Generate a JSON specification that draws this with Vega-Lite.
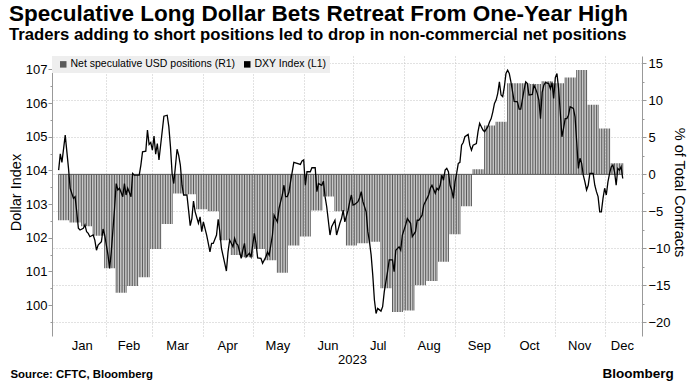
{
"$schema":"https://vega.github.io/schema/vega-lite/v6.json",
"width":590,"height":280,
"autosize":{"type":"none"},
"padding":{"left":52,"top":56,"right":55,"bottom":53},
"background":"white",
"config":{"font":"Liberation Sans","view":{"stroke":null}},
"title":{"text":"Speculative Long Dollar Bets Retreat From One-Year High","subtitle":"Traders adding to short positions led to drop in non-commercial net positions","anchor":"start","frame":"group","dx":-43,"offset":12,"fontSize":22.5,"fontWeight":"bold","color":"#000","subtitleFontSize":16.7,"subtitleFontWeight":"bold","subtitleColor":"#000","subtitlePadding":2,"font":"Liberation Sans","subtitleFont":"Liberation Sans"},
"datasets":{
"net":[
{"d":"2023-01-03","n":-6.2},{"d":"2023-01-04","n":-6.2},{"d":"2023-01-05","n":-6.2},{"d":"2023-01-06","n":-6.2},{"d":"2023-01-07","n":-6.2},{"d":"2023-01-08","n":-6.2},{"d":"2023-01-09","n":-6.2},
{"d":"2023-01-10","n":-6.5},{"d":"2023-01-11","n":-6.5},{"d":"2023-01-12","n":-6.5},{"d":"2023-01-13","n":-6.5},{"d":"2023-01-14","n":-6.5},{"d":"2023-01-15","n":-6.5},{"d":"2023-01-16","n":-6.5},
{"d":"2023-01-17","n":-7.0},{"d":"2023-01-18","n":-7.0},{"d":"2023-01-19","n":-7.0},{"d":"2023-01-20","n":-7.0},{"d":"2023-01-21","n":-7.0},{"d":"2023-01-22","n":-7.0},{"d":"2023-01-23","n":-7.0},
{"d":"2023-01-24","n":-8.3},{"d":"2023-01-25","n":-8.3},{"d":"2023-01-26","n":-8.3},{"d":"2023-01-27","n":-8.3},{"d":"2023-01-28","n":-8.3},{"d":"2023-01-29","n":-8.3},{"d":"2023-01-30","n":-8.3},
{"d":"2023-01-31","n":-12.7},{"d":"2023-02-01","n":-12.7},{"d":"2023-02-02","n":-12.7},{"d":"2023-02-03","n":-12.7},{"d":"2023-02-04","n":-12.7},{"d":"2023-02-05","n":-12.7},{"d":"2023-02-06","n":-12.7},
{"d":"2023-02-07","n":-16.0},{"d":"2023-02-08","n":-16.0},{"d":"2023-02-09","n":-16.0},{"d":"2023-02-10","n":-16.0},{"d":"2023-02-11","n":-16.0},{"d":"2023-02-12","n":-16.0},{"d":"2023-02-13","n":-16.0},
{"d":"2023-02-14","n":-15.1},{"d":"2023-02-15","n":-15.1},{"d":"2023-02-16","n":-15.1},{"d":"2023-02-17","n":-15.1},{"d":"2023-02-18","n":-15.1},{"d":"2023-02-19","n":-15.1},{"d":"2023-02-20","n":-15.1},
{"d":"2023-02-21","n":-13.9},{"d":"2023-02-22","n":-13.9},{"d":"2023-02-23","n":-13.9},{"d":"2023-02-24","n":-13.9},{"d":"2023-02-25","n":-13.9},{"d":"2023-02-26","n":-13.9},{"d":"2023-02-27","n":-13.9},
{"d":"2023-02-28","n":-10.1},{"d":"2023-03-01","n":-10.1},{"d":"2023-03-02","n":-10.1},{"d":"2023-03-03","n":-10.1},{"d":"2023-03-04","n":-10.1},{"d":"2023-03-05","n":-10.1},{"d":"2023-03-06","n":-10.1},
{"d":"2023-03-07","n":-6.7},{"d":"2023-03-08","n":-6.7},{"d":"2023-03-09","n":-6.7},{"d":"2023-03-10","n":-6.7},{"d":"2023-03-11","n":-6.7},{"d":"2023-03-12","n":-6.7},{"d":"2023-03-13","n":-6.7},
{"d":"2023-03-14","n":-2.6},{"d":"2023-03-15","n":-2.6},{"d":"2023-03-16","n":-2.6},{"d":"2023-03-17","n":-2.6},{"d":"2023-03-18","n":-2.6},{"d":"2023-03-19","n":-2.6},{"d":"2023-03-20","n":-2.6},
{"d":"2023-03-21","n":-2.7},{"d":"2023-03-22","n":-2.7},{"d":"2023-03-23","n":-2.7},{"d":"2023-03-24","n":-2.7},{"d":"2023-03-25","n":-2.7},{"d":"2023-03-26","n":-2.7},{"d":"2023-03-27","n":-2.7},
{"d":"2023-03-28","n":-4.7},{"d":"2023-03-29","n":-4.7},{"d":"2023-03-30","n":-4.7},{"d":"2023-03-31","n":-4.7},{"d":"2023-04-01","n":-4.7},{"d":"2023-04-02","n":-4.7},{"d":"2023-04-03","n":-4.7},
{"d":"2023-04-04","n":-5.0},{"d":"2023-04-05","n":-5.0},{"d":"2023-04-06","n":-5.0},{"d":"2023-04-07","n":-5.0},{"d":"2023-04-08","n":-5.0},{"d":"2023-04-09","n":-5.0},{"d":"2023-04-10","n":-5.0},
{"d":"2023-04-11","n":-8.9},{"d":"2023-04-12","n":-8.9},{"d":"2023-04-13","n":-8.9},{"d":"2023-04-14","n":-8.9},{"d":"2023-04-15","n":-8.9},{"d":"2023-04-16","n":-8.9},{"d":"2023-04-17","n":-8.9},
{"d":"2023-04-18","n":-10.9},{"d":"2023-04-19","n":-10.9},{"d":"2023-04-20","n":-10.9},{"d":"2023-04-21","n":-10.9},{"d":"2023-04-22","n":-10.9},{"d":"2023-04-23","n":-10.9},{"d":"2023-04-24","n":-10.9},
{"d":"2023-04-25","n":-11.2},{"d":"2023-04-26","n":-11.2},{"d":"2023-04-27","n":-11.2},{"d":"2023-04-28","n":-11.2},{"d":"2023-04-29","n":-11.2},{"d":"2023-04-30","n":-11.2},{"d":"2023-05-01","n":-11.2},
{"d":"2023-05-02","n":-10.1},{"d":"2023-05-03","n":-10.1},{"d":"2023-05-04","n":-10.1},{"d":"2023-05-05","n":-10.1},{"d":"2023-05-06","n":-10.1},{"d":"2023-05-07","n":-10.1},{"d":"2023-05-08","n":-10.1},
{"d":"2023-05-09","n":-11.6},{"d":"2023-05-10","n":-11.6},{"d":"2023-05-11","n":-11.6},{"d":"2023-05-12","n":-11.6},{"d":"2023-05-13","n":-11.6},{"d":"2023-05-14","n":-11.6},{"d":"2023-05-15","n":-11.6},
{"d":"2023-05-16","n":-13.3},{"d":"2023-05-17","n":-13.3},{"d":"2023-05-18","n":-13.3},{"d":"2023-05-19","n":-13.3},{"d":"2023-05-20","n":-13.3},{"d":"2023-05-21","n":-13.3},{"d":"2023-05-22","n":-13.3},
{"d":"2023-05-23","n":-9.6},{"d":"2023-05-24","n":-9.6},{"d":"2023-05-25","n":-9.6},{"d":"2023-05-26","n":-9.6},{"d":"2023-05-27","n":-9.6},{"d":"2023-05-28","n":-9.6},{"d":"2023-05-29","n":-9.6},
{"d":"2023-05-30","n":-8.4},{"d":"2023-05-31","n":-8.4},{"d":"2023-06-01","n":-8.4},{"d":"2023-06-02","n":-8.4},{"d":"2023-06-03","n":-8.4},{"d":"2023-06-04","n":-8.4},{"d":"2023-06-05","n":-8.4},
{"d":"2023-06-06","n":-4.9},{"d":"2023-06-07","n":-4.9},{"d":"2023-06-08","n":-4.9},{"d":"2023-06-09","n":-4.9},{"d":"2023-06-10","n":-4.9},{"d":"2023-06-11","n":-4.9},{"d":"2023-06-12","n":-4.9},
{"d":"2023-06-13","n":-3.0},{"d":"2023-06-14","n":-3.0},{"d":"2023-06-15","n":-3.0},{"d":"2023-06-16","n":-3.0},{"d":"2023-06-17","n":-3.0},{"d":"2023-06-18","n":-3.0},{"d":"2023-06-19","n":-3.0},
{"d":"2023-06-20","n":-5.0},{"d":"2023-06-21","n":-5.0},{"d":"2023-06-22","n":-5.0},{"d":"2023-06-23","n":-5.0},{"d":"2023-06-24","n":-5.0},{"d":"2023-06-25","n":-5.0},{"d":"2023-06-26","n":-5.0},
{"d":"2023-06-27","n":-9.6},{"d":"2023-06-28","n":-9.6},{"d":"2023-06-29","n":-9.6},{"d":"2023-06-30","n":-9.6},{"d":"2023-07-01","n":-9.6},{"d":"2023-07-02","n":-9.6},{"d":"2023-07-03","n":-9.6},
{"d":"2023-07-04","n":-9.3},{"d":"2023-07-05","n":-9.3},{"d":"2023-07-06","n":-9.3},{"d":"2023-07-07","n":-9.3},{"d":"2023-07-08","n":-9.3},{"d":"2023-07-09","n":-9.3},{"d":"2023-07-10","n":-9.3},
{"d":"2023-07-11","n":-9.1},{"d":"2023-07-12","n":-9.1},{"d":"2023-07-13","n":-9.1},{"d":"2023-07-14","n":-9.1},{"d":"2023-07-15","n":-9.1},{"d":"2023-07-16","n":-9.1},{"d":"2023-07-17","n":-9.1},
{"d":"2023-07-18","n":-15.4},{"d":"2023-07-19","n":-15.4},{"d":"2023-07-20","n":-15.4},{"d":"2023-07-21","n":-15.4},{"d":"2023-07-22","n":-15.4},{"d":"2023-07-23","n":-15.4},{"d":"2023-07-24","n":-15.4},
{"d":"2023-07-25","n":-18.6},{"d":"2023-07-26","n":-18.6},{"d":"2023-07-27","n":-18.6},{"d":"2023-07-28","n":-18.6},{"d":"2023-07-29","n":-18.6},{"d":"2023-07-30","n":-18.6},{"d":"2023-07-31","n":-18.6},
{"d":"2023-08-01","n":-18.4},{"d":"2023-08-02","n":-18.4},{"d":"2023-08-03","n":-18.4},{"d":"2023-08-04","n":-18.4},{"d":"2023-08-05","n":-18.4},{"d":"2023-08-06","n":-18.4},{"d":"2023-08-07","n":-18.4},
{"d":"2023-08-08","n":-15.0},{"d":"2023-08-09","n":-15.0},{"d":"2023-08-10","n":-15.0},{"d":"2023-08-11","n":-15.0},{"d":"2023-08-12","n":-15.0},{"d":"2023-08-13","n":-15.0},{"d":"2023-08-14","n":-15.0},
{"d":"2023-08-15","n":-14.4},{"d":"2023-08-16","n":-14.4},{"d":"2023-08-17","n":-14.4},{"d":"2023-08-18","n":-14.4},{"d":"2023-08-19","n":-14.4},{"d":"2023-08-20","n":-14.4},{"d":"2023-08-21","n":-14.4},
{"d":"2023-08-22","n":-11.8},{"d":"2023-08-23","n":-11.8},{"d":"2023-08-24","n":-11.8},{"d":"2023-08-25","n":-11.8},{"d":"2023-08-26","n":-11.8},{"d":"2023-08-27","n":-11.8},{"d":"2023-08-28","n":-11.8},
{"d":"2023-08-29","n":-8.1},{"d":"2023-08-30","n":-8.1},{"d":"2023-08-31","n":-8.1},{"d":"2023-09-01","n":-8.1},{"d":"2023-09-02","n":-8.1},{"d":"2023-09-03","n":-8.1},{"d":"2023-09-04","n":-8.1},
{"d":"2023-09-05","n":-4.3},{"d":"2023-09-06","n":-4.3},{"d":"2023-09-07","n":-4.3},{"d":"2023-09-08","n":-4.3},{"d":"2023-09-09","n":-4.3},{"d":"2023-09-10","n":-4.3},{"d":"2023-09-11","n":-4.3},
{"d":"2023-09-12","n":0.7},{"d":"2023-09-13","n":0.7},{"d":"2023-09-14","n":0.7},{"d":"2023-09-15","n":0.7},{"d":"2023-09-16","n":0.7},{"d":"2023-09-17","n":0.7},{"d":"2023-09-18","n":0.7},
{"d":"2023-09-19","n":6.6},{"d":"2023-09-20","n":6.6},{"d":"2023-09-21","n":6.6},{"d":"2023-09-22","n":6.6},{"d":"2023-09-23","n":6.6},{"d":"2023-09-24","n":6.6},{"d":"2023-09-25","n":6.6},
{"d":"2023-09-26","n":7.1},{"d":"2023-09-27","n":7.1},{"d":"2023-09-28","n":7.1},{"d":"2023-09-29","n":7.1},{"d":"2023-09-30","n":7.1},{"d":"2023-10-01","n":7.1},{"d":"2023-10-02","n":7.1},
{"d":"2023-10-03","n":12.3},{"d":"2023-10-04","n":12.3},{"d":"2023-10-05","n":12.3},{"d":"2023-10-06","n":12.3},{"d":"2023-10-07","n":12.3},{"d":"2023-10-08","n":12.3},{"d":"2023-10-09","n":12.3},
{"d":"2023-10-10","n":12.3},{"d":"2023-10-11","n":12.3},{"d":"2023-10-12","n":12.3},{"d":"2023-10-13","n":12.3},{"d":"2023-10-14","n":12.3},{"d":"2023-10-15","n":12.3},{"d":"2023-10-16","n":12.3},
{"d":"2023-10-17","n":12.2},{"d":"2023-10-18","n":12.2},{"d":"2023-10-19","n":12.2},{"d":"2023-10-20","n":12.2},{"d":"2023-10-21","n":12.2},{"d":"2023-10-22","n":12.2},{"d":"2023-10-23","n":12.2},
{"d":"2023-10-24","n":12.6},{"d":"2023-10-25","n":12.6},{"d":"2023-10-26","n":12.6},{"d":"2023-10-27","n":12.6},{"d":"2023-10-28","n":12.6},{"d":"2023-10-29","n":12.6},{"d":"2023-10-30","n":12.6},
{"d":"2023-10-31","n":12.3},{"d":"2023-11-01","n":12.3},{"d":"2023-11-02","n":12.3},{"d":"2023-11-03","n":12.3},{"d":"2023-11-04","n":12.3},{"d":"2023-11-05","n":12.3},{"d":"2023-11-06","n":12.3},
{"d":"2023-11-07","n":13.1},{"d":"2023-11-08","n":13.1},{"d":"2023-11-09","n":13.1},{"d":"2023-11-10","n":13.1},{"d":"2023-11-11","n":13.1},{"d":"2023-11-12","n":13.1},{"d":"2023-11-13","n":13.1},
{"d":"2023-11-14","n":14.1},{"d":"2023-11-15","n":14.1},{"d":"2023-11-16","n":14.1},{"d":"2023-11-17","n":14.1},{"d":"2023-11-18","n":14.1},{"d":"2023-11-19","n":14.1},{"d":"2023-11-20","n":14.1},
{"d":"2023-11-21","n":9.4},{"d":"2023-11-22","n":9.4},{"d":"2023-11-23","n":9.4},{"d":"2023-11-24","n":9.4},{"d":"2023-11-25","n":9.4},{"d":"2023-11-26","n":9.4},{"d":"2023-11-27","n":9.4},
{"d":"2023-11-28","n":6.2},{"d":"2023-11-29","n":6.2},{"d":"2023-11-30","n":6.2},{"d":"2023-12-01","n":6.2},{"d":"2023-12-02","n":6.2},{"d":"2023-12-03","n":6.2},{"d":"2023-12-04","n":6.2},
{"d":"2023-12-05","n":1.5},{"d":"2023-12-06","n":1.5},{"d":"2023-12-07","n":1.5},{"d":"2023-12-08","n":1.5},{"d":"2023-12-09","n":1.5},{"d":"2023-12-10","n":1.5},{"d":"2023-12-11","n":1.5},{"d":"2023-12-12","n":1.5}
],
"dxy":[
{"d":"2023-01-03","v":104.01},{"d":"2023-01-04","v":104.49},{"d":"2023-01-05","v":104.24},{"d":"2023-01-07","v":105.05},{"d":"2023-01-09","v":104.06},{"d":"2023-01-10","v":103.47},{"d":"2023-01-12","v":103.17},{"d":"2023-01-13","v":103.22},{"d":"2023-01-14","v":102.77},{"d":"2023-01-15","v":102.28},{"d":"2023-01-16","v":102.23},{"d":"2023-01-18","v":102.28},{"d":"2023-01-19","v":102.38},{"d":"2023-01-20","v":102.18},{"d":"2023-01-21","v":102.13},{"d":"2023-01-22","v":102.03},{"d":"2023-01-24","v":102.08},{"d":"2023-01-25","v":101.93},{"d":"2023-01-26","v":101.63},{"d":"2023-01-27","v":101.78},{"d":"2023-01-29","v":101.88},{"d":"2023-01-30","v":102.26},{"d":"2023-01-31","v":102.08},
{"d":"2023-02-02","v":101.49},{"d":"2023-02-03","v":101.09},{"d":"2023-02-04","v":101.58},{"d":"2023-02-06","v":102.87},{"d":"2023-02-07","v":103.61},{"d":"2023-02-08","v":103.42},{"d":"2023-02-09","v":103.47},{"d":"2023-02-11","v":103.22},{"d":"2023-02-12","v":103.61},{"d":"2023-02-13","v":103.27},{"d":"2023-02-14","v":103.47},{"d":"2023-02-16","v":103.22},{"d":"2023-02-17","v":103.91},{"d":"2023-02-18","v":103.86},{"d":"2023-02-19","v":103.86},{"d":"2023-02-21","v":103.86},{"d":"2023-02-22","v":104.16},{"d":"2023-02-23","v":104.55},{"d":"2023-02-25","v":104.57},{"d":"2023-02-26","v":105.2},{"d":"2023-02-27","v":104.77},{"d":"2023-02-28","v":104.83},
{"d":"2023-03-01","v":104.6},{"d":"2023-03-02","v":105.02},{"d":"2023-03-03","v":104.48},{"d":"2023-03-04","v":104.8},{"d":"2023-03-05","v":104.31},{"d":"2023-03-08","v":105.61},{"d":"2023-03-10","v":105.64},{"d":"2023-03-11","v":105.3},{"d":"2023-03-12","v":104.7},{"d":"2023-03-13","v":103.9},{"d":"2023-03-14","v":103.61},{"d":"2023-03-16","v":104.63},{"d":"2023-03-17","v":104.45},{"d":"2023-03-18","v":104.16},{"d":"2023-03-19","v":103.56},{"d":"2023-03-20","v":103.27},{"d":"2023-03-22","v":103.27},{"d":"2023-03-23","v":102.82},{"d":"2023-03-24","v":102.36},{"d":"2023-03-25","v":102.57},{"d":"2023-03-26","v":103.09},{"d":"2023-03-27","v":102.77},{"d":"2023-03-29","v":102.43},{"d":"2023-03-30","v":102.62},{"d":"2023-03-31","v":102.18},
{"d":"2023-04-01","v":102.47},{"d":"2023-04-03","v":102.08},{"d":"2023-04-04","v":101.83},{"d":"2023-04-05","v":101.58},{"d":"2023-04-06","v":101.83},{"d":"2023-04-07","v":101.83},{"d":"2023-04-09","v":102.08},{"d":"2023-04-10","v":102.55},{"d":"2023-04-11","v":102.18},{"d":"2023-04-12","v":101.68},{"d":"2023-04-14","v":101.24},{"d":"2023-04-15","v":101.01},{"d":"2023-04-16","v":101.58},{"d":"2023-04-17","v":101.93},{"d":"2023-04-19","v":101.73},{"d":"2023-04-20","v":101.98},{"d":"2023-04-21","v":101.83},{"d":"2023-04-22","v":101.78},{"d":"2023-04-24","v":101.39},{"d":"2023-04-25","v":101.63},{"d":"2023-04-26","v":101.83},{"d":"2023-04-27","v":101.43},{"d":"2023-04-29","v":101.54},{"d":"2023-04-30","v":101.43},
{"d":"2023-05-02","v":102.13},{"d":"2023-05-03","v":101.83},{"d":"2023-05-04","v":101.4},{"d":"2023-05-06","v":101.39},{"d":"2023-05-07","v":101.24},{"d":"2023-05-09","v":101.43},{"d":"2023-05-10","v":101.58},{"d":"2023-05-11","v":101.48},{"d":"2023-05-13","v":102.08},{"d":"2023-05-14","v":102.67},{"d":"2023-05-16","v":102.47},{"d":"2023-05-17","v":102.87},{"d":"2023-05-19","v":103.27},{"d":"2023-05-20","v":103.56},{"d":"2023-05-21","v":103.22},{"d":"2023-05-22","v":103.22},{"d":"2023-05-23","v":103.35},{"d":"2023-05-24","v":103.66},{"d":"2023-05-26","v":104.24},{"d":"2023-05-28","v":104.21},{"d":"2023-05-30","v":104.18},{"d":"2023-05-31","v":104.28},
{"d":"2023-06-01","v":104.31},{"d":"2023-06-02","v":103.56},{"d":"2023-06-03","v":103.96},{"d":"2023-06-05","v":103.96},{"d":"2023-06-06","v":104.08},{"d":"2023-06-08","v":104.08},{"d":"2023-06-09","v":103.37},{"d":"2023-06-10","v":103.61},{"d":"2023-06-12","v":103.56},{"d":"2023-06-13","v":103.68},{"d":"2023-06-14","v":103.22},{"d":"2023-06-15","v":102.92},{"d":"2023-06-17","v":102.08},{"d":"2023-06-18","v":102.33},{"d":"2023-06-20","v":102.52},{"d":"2023-06-21","v":102.08},{"d":"2023-06-23","v":102.43},{"d":"2023-06-24","v":102.57},{"d":"2023-06-25","v":102.82},{"d":"2023-06-26","v":102.47},{"d":"2023-06-28","v":102.82},{"d":"2023-06-29","v":103.07},{"d":"2023-06-30","v":103.27},
{"d":"2023-07-01","v":102.97},{"d":"2023-07-02","v":102.99},{"d":"2023-07-04","v":103.07},{"d":"2023-07-05","v":103.19},{"d":"2023-07-06","v":103.37},{"d":"2023-07-07","v":103.07},{"d":"2023-07-09","v":102.77},{"d":"2023-07-10","v":102.18},{"d":"2023-07-11","v":101.88},{"d":"2023-07-12","v":101.49},{"d":"2023-07-13","v":100.89},{"d":"2023-07-14","v":100.15},{"d":"2023-07-15","v":99.75},{"d":"2023-07-16","v":99.9},{"d":"2023-07-18","v":99.82},{"d":"2023-07-19","v":99.95},{"d":"2023-07-20","v":100.4},{"d":"2023-07-22","v":100.99},{"d":"2023-07-23","v":101.34},{"d":"2023-07-25","v":101.34},{"d":"2023-07-26","v":100.99},{"d":"2023-07-27","v":101.63},{"d":"2023-07-29","v":101.73},{"d":"2023-07-30","v":101.63},{"d":"2023-07-31","v":102.08},
{"d":"2023-08-02","v":102.38},{"d":"2023-08-03","v":102.57},{"d":"2023-08-05","v":102.43},{"d":"2023-08-06","v":102.03},{"d":"2023-08-08","v":102.18},{"d":"2023-08-09","v":102.52},{"d":"2023-08-10","v":102.52},{"d":"2023-08-12","v":102.67},{"d":"2023-08-13","v":102.97},{"d":"2023-08-15","v":103.17},{"d":"2023-08-16","v":103.27},{"d":"2023-08-17","v":103.47},{"d":"2023-08-18","v":103.56},{"d":"2023-08-20","v":103.32},{"d":"2023-08-21","v":103.47},{"d":"2023-08-22","v":103.42},{"d":"2023-08-23","v":103.56},{"d":"2023-08-24","v":103.86},{"d":"2023-08-25","v":103.71},{"d":"2023-08-26","v":104.01},{"d":"2023-08-27","v":104.06},{"d":"2023-08-28","v":103.96},{"d":"2023-08-29","v":103.56},{"d":"2023-08-30","v":103.42},{"d":"2023-08-31","v":103.17},
{"d":"2023-09-01","v":103.66},{"d":"2023-09-02","v":103.91},{"d":"2023-09-03","v":104.21},{"d":"2023-09-04","v":104.24},{"d":"2023-09-05","v":104.75},{"d":"2023-09-06","v":104.83},{"d":"2023-09-07","v":105.0},{"d":"2023-09-09","v":105.07},{"d":"2023-09-10","v":104.75},{"d":"2023-09-11","v":104.6},{"d":"2023-09-12","v":104.75},{"d":"2023-09-14","v":104.8},{"d":"2023-09-15","v":105.15},{"d":"2023-09-16","v":105.4},{"d":"2023-09-17","v":105.3},{"d":"2023-09-18","v":105.2},{"d":"2023-09-19","v":105.15},{"d":"2023-09-21","v":105.3},{"d":"2023-09-22","v":105.44},{"d":"2023-09-23","v":105.54},{"d":"2023-09-24","v":105.74},{"d":"2023-09-25","v":105.99},{"d":"2023-09-26","v":106.09},{"d":"2023-09-27","v":106.29},{"d":"2023-09-28","v":106.63},{"d":"2023-09-29","v":106.24},{"d":"2023-09-30","v":106.19},
{"d":"2023-10-01","v":106.48},{"d":"2023-10-02","v":106.88},{"d":"2023-10-03","v":106.98},{"d":"2023-10-04","v":106.88},{"d":"2023-10-05","v":106.63},{"d":"2023-10-06","v":106.34},{"d":"2023-10-07","v":106.05},{"d":"2023-10-09","v":106.04},{"d":"2023-10-10","v":105.82},{"d":"2023-10-11","v":105.82},{"d":"2023-10-13","v":106.39},{"d":"2023-10-14","v":106.63},{"d":"2023-10-15","v":106.58},{"d":"2023-10-16","v":106.24},{"d":"2023-10-18","v":106.26},{"d":"2023-10-19","v":106.53},{"d":"2023-10-20","v":106.43},{"d":"2023-10-21","v":106.29},{"d":"2023-10-22","v":106.09},{"d":"2023-10-23","v":105.54},{"d":"2023-10-24","v":106.32},{"d":"2023-10-25","v":106.53},{"d":"2023-10-26","v":106.61},{"d":"2023-10-28","v":106.58},{"d":"2023-10-29","v":106.43},{"d":"2023-10-30","v":106.61},{"d":"2023-10-31","v":106.14},
{"d":"2023-11-01","v":106.76},{"d":"2023-11-02","v":106.88},{"d":"2023-11-03","v":106.43},{"d":"2023-11-04","v":105.74},{"d":"2023-11-05","v":105.0},{"d":"2023-11-06","v":105.25},{"d":"2023-11-07","v":105.54},{"d":"2023-11-08","v":105.54},{"d":"2023-11-09","v":105.64},{"d":"2023-11-10","v":105.89},{"d":"2023-11-12","v":105.84},{"d":"2023-11-13","v":105.59},{"d":"2023-11-14","v":104.85},{"d":"2023-11-15","v":104.06},{"d":"2023-11-16","v":104.36},{"d":"2023-11-17","v":104.21},{"d":"2023-11-18","v":103.86},{"d":"2023-11-19","v":103.66},{"d":"2023-11-20","v":103.42},{"d":"2023-11-21","v":103.56},{"d":"2023-11-22","v":103.91},{"d":"2023-11-24","v":103.91},{"d":"2023-11-25","v":103.56},{"d":"2023-11-26","v":103.37},{"d":"2023-11-27","v":103.22},{"d":"2023-11-28","v":102.77},{"d":"2023-11-29","v":102.77},{"d":"2023-11-30","v":103.17},
{"d":"2023-12-01","v":103.47},{"d":"2023-12-02","v":103.27},{"d":"2023-12-03","v":103.66},{"d":"2023-12-04","v":103.91},{"d":"2023-12-05","v":104.11},{"d":"2023-12-06","v":104.16},{"d":"2023-12-07","v":103.96},{"d":"2023-12-08","v":103.56},{"d":"2023-12-09","v":104.06},{"d":"2023-12-10","v":104.01},{"d":"2023-12-11","v":104.11},{"d":"2023-12-12","v":103.76}
]
},
"layer":[
{"layer":[
{"data":{"name":"net"},
 "mark":{"type":"bar","width":1},
 "encoding":{
  "x":{"field":"d","type":"temporal","scale":{"type":"utc","domain":[{"year":2023,"month":1,"date":2,"utc":true},{"year":2023,"month":12,"date":20,"hours":16,"utc":true}]},
   "axis":{"orient":"bottom","values":[{"year":2023,"month":2,"date":1,"utc":true},{"year":2023,"month":3,"date":1,"utc":true},{"year":2023,"month":4,"date":1,"utc":true},{"year":2023,"month":5,"date":1,"utc":true},{"year":2023,"month":6,"date":1,"utc":true},{"year":2023,"month":7,"date":1,"utc":true},{"year":2023,"month":8,"date":1,"utc":true},{"year":2023,"month":9,"date":1,"utc":true},{"year":2023,"month":10,"date":1,"utc":true},{"year":2023,"month":11,"date":1,"utc":true},{"year":2023,"month":12,"date":1,"utc":true}],
   "grid":true,"gridColor":"#c4c4c4","gridDash":[1,2],"ticks":false,"labels":false,"domain":false,
   "title":"Source: CFTC, Bloomberg","titleX":-42,"titleY":38.5,"titleAlign":"left","titleBaseline":"middle","titleFontSize":11.4,"titleFontWeight":"bold","titleColor":"#000","titleFont":"Liberation Sans"}},
  "y":{"field":"n","type":"quantitative","scale":{"domain":[-21.85,16],"nice":false,"zero":false},
   "axis":{"orient":"right","values":[-20,-17.5,-15,-12.5,-10,-7.5,-5,-2.5,0,2.5,5,7.5,10,12.5,15],"format":".0f","labelExpr":"datum.value % 5 === 0 ? datum.label : ''","labelOverlap":false,
    "grid":true,"gridColor":"#c4c4c4","gridDash":[1,2],"gridOpacity":{"condition":{"test":"datum.value % 5 === 0","value":1},"value":0},
    "domainColor":"#999","tickColor":"#999","tickSize":{"condition":{"test":"datum.value % 5 === 0","value":4},"value":2},"labelFontSize":13,"labelColor":"#000","labelPadding":2,"labelFont":"Liberation Sans",
    "title":"% of Total Contracts","titleFontSize":14.5,"titleFontWeight":"normal","titleColor":"#000","titleFont":"Liberation Sans","titleX":36,"titleY":136,"titleAngle":90,"titleBaseline":"middle","titleAlign":"center"}},
  "color":{"datum":"Net speculative USD positions (R1)","scale":{"domain":["Net speculative USD positions (R1)","DXY Index (L1)"],"range":["#5a5a5a","#000000"]},
   "legend":{"orient":"none","legendX":0,"legendY":0,"direction":"horizontal","title":null,"fillColor":"#eeeeee","padding":3,"symbolOffset":3,"symbolType":"square","symbolSize":42,"symbolStrokeWidth":0,"labelFontSize":10.5,"labelFont":"Liberation Sans","labelColor":"#000","labelOffset":2,"labelLimit":400,"columnPadding":3,
    "encode":{"symbols":{"update":{"fill":{"scale":"color","field":"value"},"strokeWidth":{"value":0}}}}}}
 }},
{"data":{"name":"net"},
 "mark":{"type":"rule","color":"#5a5a5a","strokeWidth":1},
 "encoding":{
  "x":{"aggregate":"min","field":"d","type":"temporal",
   "axis":{"orient":"bottom","grid":false,"ticks":false,"labels":false,"domain":false,"title":"Bloomberg","titleX":550,"titleY":37,"titleAlign":"left","titleBaseline":"middle","titleFontSize":13.5,"titleFontWeight":"bold","titleColor":"#000","titleFont":"Liberation Sans"}},
  "x2":{"aggregate":"max","field":"d"},
  "y":{"datum":0,"type":"quantitative",
   "axis":{"orient":"right","values":[-20,-17.5,-15,-12.5,-10,-7.5,-5,-2.5,0,2.5,5,7.5,10,12.5,15],"format":".0f","labelExpr":"datum.value % 5 === 0 ? datum.label : ''","labelOverlap":false,
    "grid":true,"gridColor":"#c4c4c4","gridDash":[1,2],"gridOpacity":{"condition":{"test":"datum.value % 5 === 0","value":1},"value":0},
    "domainColor":"#999","tickColor":"#999","tickSize":{"condition":{"test":"datum.value % 5 === 0","value":4},"value":2},"labelFontSize":13,"labelColor":"#000","labelPadding":2,"labelFont":"Liberation Sans",
    "title":"% of Total Contracts","titleFontSize":14.5,"titleFontWeight":"normal","titleColor":"#000","titleFont":"Liberation Sans","titleX":36,"titleY":136,"titleAngle":90,"titleBaseline":"middle","titleAlign":"center"}}
 }}
],"resolve":{"axis":{"x":"independent"}}},
{"data":{"name":"dxy"},
 "mark":{"type":"line","strokeWidth":1.3,"interpolate":"linear"},
 "encoding":{
  "x":{"field":"d","type":"temporal",
   "axis":{"orient":"bottom","values":[{"year":2023,"month":1,"date":17,"utc":true},{"year":2023,"month":2,"date":14,"hours":12,"utc":true},{"year":2023,"month":3,"date":16,"utc":true},{"year":2023,"month":4,"date":15,"hours":12,"utc":true},{"year":2023,"month":5,"date":16,"utc":true},{"year":2023,"month":6,"date":15,"hours":12,"utc":true},{"year":2023,"month":7,"date":16,"utc":true},{"year":2023,"month":8,"date":16,"utc":true},{"year":2023,"month":9,"date":15,"hours":12,"utc":true},{"year":2023,"month":10,"date":16,"utc":true},{"year":2023,"month":11,"date":15,"hours":12,"utc":true},{"year":2023,"month":12,"date":11,"hours":12,"utc":true}],
   "labelExpr":"utcFormat(datum.value, '%b')","grid":false,"ticks":false,"domain":false,"labelFontSize":13,"labelColor":"#000","labelPadding":3,"labelFlush":false,"labelOverlap":false,"labelFont":"Liberation Sans",
   "title":"2023","titleX":300,"titleY":23,"titleBaseline":"middle","titleAlign":"center","titleFontSize":13,"titleFontWeight":"normal","titleColor":"#000","titleFont":"Liberation Sans"}},
  "y":{"field":"v","type":"quantitative","scale":{"domain":[99.08,107.4],"nice":false,"zero":false},
   "axis":{"orient":"left","values":[99.5,100,100.5,101,101.5,102,102.5,103,103.5,104,104.5,105,105.5,106,106.5,107],"format":".0f","labelExpr":"datum.value % 1 === 0 ? datum.label : ''","labelOverlap":false,
    "grid":false,"domainColor":"#999","tickColor":"#999","tickSize":{"condition":{"test":"datum.value % 1 === 0","value":4},"value":2},"labelFontSize":13,"labelColor":"#000","labelPadding":1,"labelFont":"Liberation Sans",
    "title":"Dollar Index","titleFontSize":14.5,"titleFontWeight":"normal","titleColor":"#000","titleFont":"Liberation Sans","titleX":-36,"titleY":136,"titleAngle":-90,"titleBaseline":"middle","titleAlign":"center"}},
  "color":{"datum":"DXY Index (L1)"}
 }}
],
"resolve":{"scale":{"y":"independent"},"axis":{"x":"independent"}}
}
